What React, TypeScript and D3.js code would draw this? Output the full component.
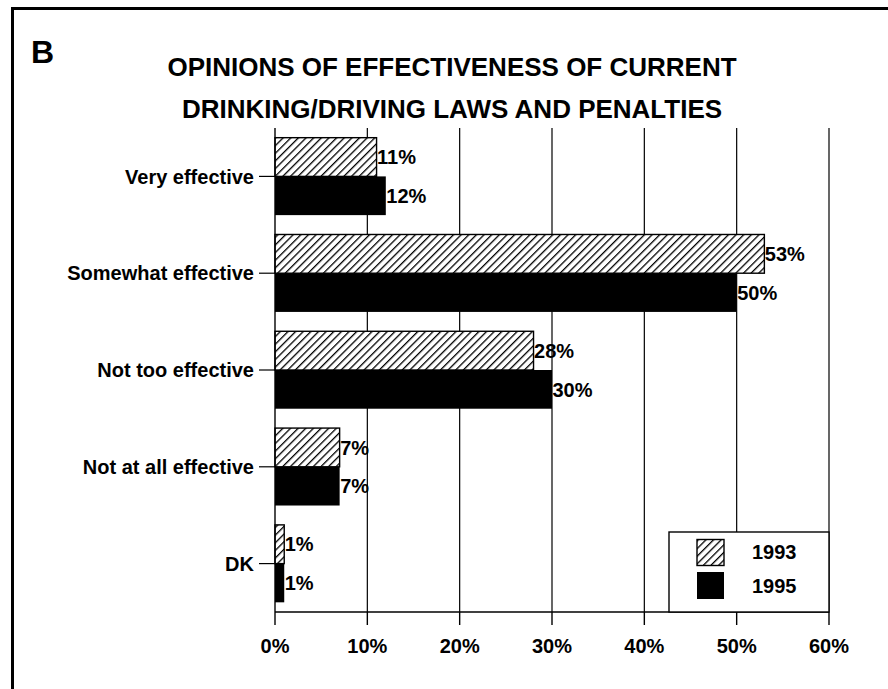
import React from "react";
import * as d3 from "d3";

const categories = ["Very effective", "Somewhat effective", "Not too effective", "Not at all effective", "DK"];
const series1993 = [11, 53, 28, 7, 1];
const series1995 = [12, 50, 30, 7, 1];
const xTicks = [0, 10, 20, 30, 40, 50, 60];
const titleLines = ["OPINIONS OF EFFECTIVENESS OF CURRENT", "DRINKING/DRIVING LAWS AND PENALTIES"];
const legendLabels = ["1993", "1995"];
const panelLetter = "B";

const W = 888;
const H = 689;
const FONT = "'Liberation Sans', Arial, Helvetica, sans-serif";

export default function App() {
  const left = 275;
  const right = 829;
  const top = 128;
  const bottom = 612;

  const x = d3.scaleLinear().domain([0, 60]).range([left, right]);
  const y = d3.scaleBand<string>().domain(categories).range([top, bottom]).paddingInner(0.2).paddingOuter(0.1);
  const bw = y.bandwidth();
  const half = bw / 2;

  const legend = { x0: 669, y0: 532, x1: 829, y1: 612 };

  return (
    <div style={{ position: "fixed", left: 0, top: 0, width: W, height: H, background: "#fff" }}>
      <svg width={W} height={H} style={{ display: "block" }} fontFamily={FONT}>
        <defs>
          <pattern id="hatch" patternUnits="userSpaceOnUse" width={5.4} height={5.4} patternTransform="rotate(45)">
            <rect width={5.4} height={5.4} fill="#fff" />
            <line x1={0} y1={0} x2={0} y2={5.4} stroke="#000" strokeWidth={2.6} />
          </pattern>
        </defs>
        <rect width={W} height={H} fill="#fff" />
        {/* frame */}
        <line x1={12.5} y1={8.5} x2={W} y2={8.5} stroke="#000" strokeWidth={3} />
        <line x1={12.5} y1={7} x2={12.5} y2={H} stroke="#000" strokeWidth={3} />

        <text x={31} y={63} fontSize={32} fontWeight="bold" fill="#000">{panelLetter}</text>
        {titleLines.map((t, i) => (
          <text key={i} x={452} y={76 + i * 42} textAnchor="middle" fontSize={26} fontWeight="bold" fill="#000">{t}</text>
        ))}

        {/* gridlines */}
        {xTicks.filter((t) => t > 0).map((t) => (
          <line key={t} x1={x(t)} x2={x(t)} y1={top} y2={bottom} stroke="#000" strokeWidth={1.2} />
        ))}

        {/* bars */}
        {categories.map((c, i) => {
          const y0 = y(c)!;
          return (
            <g key={c}>
              <rect x={x(0)} y={y0} width={x(series1993[i]) - x(0)} height={half} fill="url(#hatch)" stroke="#000" strokeWidth={1.4} />
              <rect x={x(0)} y={y0 + half} width={x(series1995[i]) - x(0)} height={half} fill="#000" />
              <text x={x(series1993[i]) + 0.5} y={y0 + half / 2} dy="0.36em" fontSize={20} fontWeight="bold" fill="#000">{series1993[i]}%</text>
              <text x={x(series1995[i]) + 0.5} y={y0 + half * 1.5} dy="0.36em" fontSize={20} fontWeight="bold" fill="#000">{series1995[i]}%</text>
            </g>
          );
        })}

        {/* axes */}
        <line x1={x(0)} x2={x(0)} y1={top} y2={bottom} stroke="#000" strokeWidth={1.4} />
        <line x1={x(0)} x2={right} y1={bottom} y2={bottom} stroke="#000" strokeWidth={1.4} />
        {xTicks.map((t) => (
          <g key={t}>
            <line x1={x(t)} x2={x(t)} y1={bottom} y2={bottom + 13} stroke="#000" strokeWidth={1.4} />
            <text x={x(t)} y={646} dy="0.36em" textAnchor="middle" fontSize={20} fontWeight="bold" fill="#000">{t}%</text>
          </g>
        ))}
        {categories.map((c) => {
          const cy = y(c)! + half;
          return (
            <g key={c}>
              <line x1={259} x2={x(0)} y1={cy} y2={cy} stroke="#000" strokeWidth={1.2} />
              <text x={254} y={cy} dy="0.36em" textAnchor="end" fontSize={20} fontWeight="bold" fill="#000">{c}</text>
            </g>
          );
        })}

        {/* legend */}
        <rect x={legend.x0} y={legend.y0} width={legend.x1 - legend.x0} height={legend.y1 - legend.y0} fill="#fff" stroke="#000" strokeWidth={1.4} />
        <rect x={697} y={539.5} width={27} height={26} fill="url(#hatch)" stroke="#000" strokeWidth={1.4} />
        <rect x={697} y={572} width={27} height={27} fill="#000" />
        {legendLabels.map((l, i) => (
          <text key={l} x={752} y={552 + i * 34} dy="0.36em" fontSize={20} fontWeight="bold" fill="#000">{l}</text>
        ))}
      </svg>
    </div>
  );
}
